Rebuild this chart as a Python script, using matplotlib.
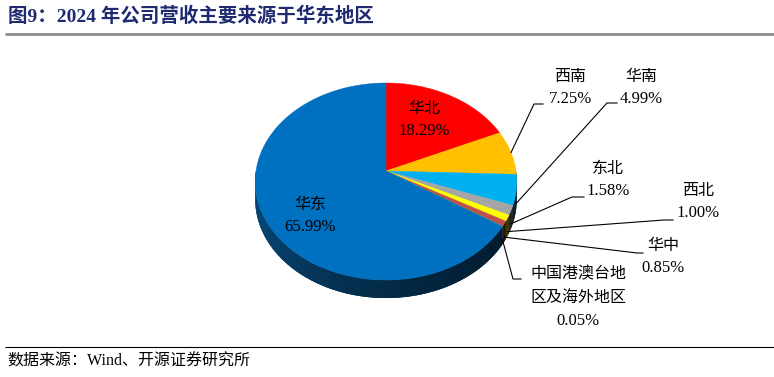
import numpy as np
import matplotlib.pyplot as plt
from matplotlib.patches import Polygon
from matplotlib.colors import to_rgb

# data
regions = ['华北', '西南', '华南', '东北', '西北', '华中', '中国港澳台地\n区及海外地区', '华东']
shares = [18.29, 7.25, 4.99, 1.58, 1.00, 0.85, 0.05, 65.99]
colors = ['#FF0000', '#FFC000', '#00B0F0', '#A5A5A5', '#FFFF00', '#C0504D', '#70AD47', '#0070C0']

title = '图9：2024 年公司营收主要来源于华东地区'
source = '数据来源：Wind、开源证券研究所'

FAM = ['Liberation Serif', 'Noto Sans CJK SC']

# pie geometry (pixel space), mild perspective
cx, cy, rx, ry, k, depth = 386, 171, 130, 97.4, 0.1066, 18


def proj(theta):
    t = np.radians(theta)
    u, v = np.sin(t), np.cos(t)
    d = 1 + k * v
    return cx + rx * u / d, cy - ry * v / d


def shade(mid):
    # darker towards the right-front, lighter towards the left
    f = (mid - 90) / 180
    return 0.20 + 0.12 * f + 0.30 * f ** 2.2


fig = plt.figure(figsize=(7.74, 3.77), dpi=100)
ax = fig.add_axes([0, 0, 1, 1])
ax.set_xlim(0, 774)
ax.set_ylim(377, 0)
ax.axis('off')

bounds = np.concatenate([[0], np.cumsum(shares) / np.sum(shares) * 360])

# side walls (front half only)
for i, c in enumerate(colors):
    a0, a1 = max(bounds[i], 90), min(bounds[i + 1], 270)
    if a1 <= a0:
        continue
    base = np.array(to_rgb(c))
    # backing polygon so that segment seams blend into a dark colour
    ts = np.linspace(a0, a1, 200)
    xs, ys = proj(ts)
    pts = list(zip(xs, ys)) + list(zip(xs[::-1], ys[::-1] + depth))
    back = np.clip(base * shade((a0 + a1) / 2), 0, 1)
    ax.add_patch(Polygon(pts, closed=True, facecolor=back, edgecolor='none'))
    n = max(2, int((a1 - a0) / 1.0) + 1)
    edges = np.linspace(a0, a1, n)
    for s0, s1 in zip(edges[:-1], edges[1:]):
        mid = (s0 + s1) / 2
        col = np.clip(base * shade(mid) + np.array([0.03, 0.05, 0.07]) * (mid - 90) / 180, 0, 1)
        ts = np.linspace(s0, min(s1 + 0.6, a1), 4)
        xs, ys = proj(ts)
        pts = list(zip(xs, ys)) + list(zip(xs[::-1], ys[::-1] + depth))
        ax.add_patch(Polygon(pts, closed=True, facecolor=col, edgecolor='none'))

# top faces
for i, c in enumerate(colors):
    ts = np.linspace(bounds[i], bounds[i + 1], max(3, int(bounds[i + 1] - bounds[i]) * 2))
    xs, ys = proj(ts)
    pts = [(cx, cy)] + list(zip(xs, ys))
    ax.add_patch(Polygon(pts, closed=True, facecolor=c, edgecolor=c, lw=0.3))

# inside labels
inside_pos = {0: (424, 120), 7: (310, 216)}
for i, (x, y) in inside_pos.items():
    ax.text(x, y - 11, regions[i], ha='center', va='center', fontsize=11.5, family=FAM)
    ax.text(x, y + 11, f'{shares[i]:.2f}%', ha='center', va='center', fontsize=12, family=FAM)

# outside labels: label centre, elbow start, elbow end
outside = {
    1: ((570, 88), (534, 104), (543, 104)),
    2: ((641, 88), (607, 103), (617, 103)),
    3: ((608, 180), (572, 197), (584, 197)),
    4: ((698, 202), (664, 220), (673, 220)),
    5: ((663, 257), (637, 253), (643, 253)),
}
for i, (lab, e0, e1) in outside.items():
    mid = (bounds[i] + bounds[i + 1]) / 2
    sx, sy = proj(mid)
    if mid > 90:
        sy += depth * 0.75
    ax.plot([sx, e0[0], e1[0]], [sy, e0[1], e1[1]], color='black', lw=0.8)
    ax.text(lab[0], lab[1] - 11, regions[i], ha='center', va='center', fontsize=11.5, family=FAM)
    ax.text(lab[0], lab[1] + 11, f'{shares[i]:.2f}%', ha='center', va='center', fontsize=12, family=FAM)

# Hong Kong / Macao / Taiwan & overseas
mid = (bounds[6] + bounds[7]) / 2
sx, sy = proj(mid)
sy += depth * 0.75
ax.plot([sx, 513, 521], [sy, 279, 279], color='black', lw=0.8)
for j, line in enumerate(regions[6].split('\n')):
    ax.text(578, 274 + 23.5 * j, line, ha='center', va='center', fontsize=11.5, family=FAM)
ax.text(578, 321, f'{shares[6]:.2f}%', ha='center', va='center', fontsize=12, family=FAM)

# title, rules, source
ax.text(8, 16, title, ha='left', va='center', fontsize=14, fontweight='bold',
        color='#1F2A70', family=FAM)
ax.plot([5, 774], [33.5, 33.5], color='#8C8C8C', lw=2, solid_capstyle='butt')
ax.plot([5, 774], [347, 347], color='black', lw=0.8, solid_capstyle='butt')
ax.text(7, 362, source, ha='left', va='center', fontsize=11.5, family=FAM)

fig.savefig('out.png', dpi=100)
